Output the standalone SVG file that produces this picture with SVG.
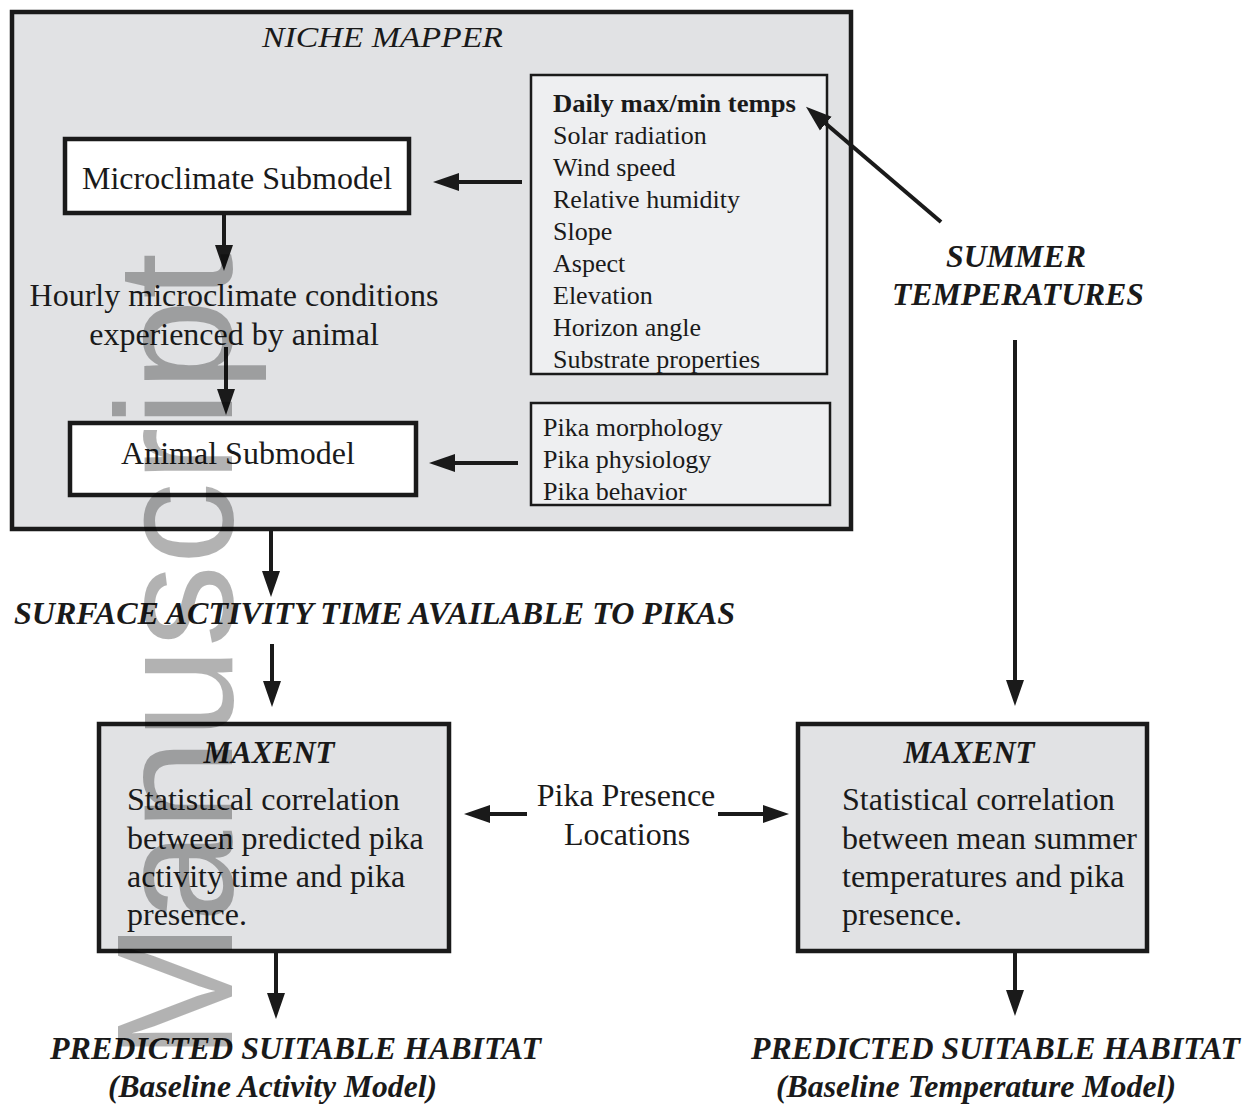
<svg xmlns="http://www.w3.org/2000/svg" width="1253" height="1108" viewBox="0 0 1253 1108">
<style>
text{font-family:"Liberation Serif","Times New Roman",serif;fill:#1a1a1a}
.t26{font-size:26px}
.t32{font-size:32px}
.bi{font-size:31px;font-weight:bold;font-style:italic}
.it{font-size:30px;font-style:italic}
.mid{text-anchor:middle}
.box{stroke:#1a1a1a;stroke-width:4.5}
.thin{stroke:#1a1a1a;stroke-width:2.5}
.gray{fill:#e1e2e4}
.light{fill:#eeeff1}
.white{fill:#ffffff}
.conn line{stroke:#1a1a1a;stroke-width:4;fill:none}
</style>
<defs>
<marker id="ah" markerUnits="userSpaceOnUse" markerWidth="28" markerHeight="20" refX="1" refY="9" orient="auto" viewBox="0 0 28 18">
<path d="M0,0 L26,9 L0,18 Z" fill="#1a1a1a"/>
</marker>
</defs>
<rect width="1253" height="1108" fill="#ffffff"/>

<g id="niche-mapper">
<rect x="12" y="12" width="839" height="517" class="box gray"/>
<text x="262" y="47" class="it" textLength="241" lengthAdjust="spacingAndGlyphs">NICHE MAPPER</text>
</g>

<g id="inputs">
<rect x="531" y="75" width="296" height="299" class="thin light"/>
<text x="553" y="112" class="t26" font-weight="bold" textLength="243" lengthAdjust="spacingAndGlyphs">Daily max/min temps</text>
<text x="553" y="144" class="t26">Solar radiation</text>
<text x="553" y="176" class="t26">Wind speed</text>
<text x="553" y="208" class="t26">Relative humidity</text>
<text x="553" y="240" class="t26">Slope</text>
<text x="553" y="272" class="t26">Aspect</text>
<text x="553" y="304" class="t26">Elevation</text>
<text x="553" y="336" class="t26">Horizon angle</text>
<text x="553" y="368" class="t26">Substrate properties</text>
</g>

<g id="pika-traits">
<rect x="531" y="403" width="299" height="102" class="thin light"/>
<text x="543" y="436" class="t26">Pika morphology</text>
<text x="543" y="468" class="t26">Pika physiology</text>
<text x="543" y="500" class="t26">Pika behavior</text>
</g>

<g id="microclimate-submodel">
<rect x="65" y="139" width="344" height="74" class="box white"/>
<text x="237" y="189" class="t32 mid">Microclimate Submodel</text>
</g>

<g id="hourly-conditions">
<text x="234" y="306" class="t32 mid">Hourly microclimate conditions</text>
<text x="234" y="345" class="t32 mid">experienced by animal</text>
</g>

<g id="animal-submodel">
<rect x="70" y="423" width="346" height="72" class="box white"/>
<text x="238" y="464" class="t32 mid">Animal Submodel</text>
</g>

<g id="surface-activity">
<text x="14" y="624" class="bi" textLength="721" lengthAdjust="spacingAndGlyphs">SURFACE ACTIVITY TIME AVAILABLE TO PIKAS</text>
</g>

<g id="maxent-activity">
<rect x="99" y="724" width="350" height="227" class="box gray"/>
<text x="269" y="763" class="bi mid">MAXENT</text>
<text x="127" y="810" class="t32">Statistical correlation</text>
<text x="127" y="849" class="t32">between predicted pika</text>
<text x="127" y="887" class="t32">activity time and pika</text>
<text x="127" y="925" class="t32">presence.</text>
</g>

<g id="pika-presence">
<text x="626" y="806" class="t32 mid">Pika Presence</text>
<text x="627" y="845" class="t32 mid">Locations</text>
</g>

<g id="maxent-temperature">
<rect x="798" y="724" width="349" height="227" class="box gray"/>
<text x="969" y="763" class="bi mid">MAXENT</text>
<text x="842" y="810" class="t32">Statistical correlation</text>
<text x="842" y="849" class="t32">between mean summer</text>
<text x="842" y="887" class="t32">temperatures and pika</text>
<text x="842" y="925" class="t32">presence.</text>
</g>

<g id="summer-temperatures">
<text x="946" y="267" class="bi" textLength="140" lengthAdjust="spacingAndGlyphs">SUMMER</text>
<text x="892" y="305" class="bi" textLength="252" lengthAdjust="spacingAndGlyphs">TEMPERATURES</text>
</g>

<g id="habitat-activity">
<text x="50" y="1059" class="bi" textLength="491" lengthAdjust="spacingAndGlyphs">PREDICTED SUITABLE HABITAT</text>
<text x="108" y="1097" class="bi" textLength="329" lengthAdjust="spacingAndGlyphs">(Baseline Activity Model)</text>
</g>

<g id="habitat-temperature">
<text x="751" y="1059" class="bi" textLength="489" lengthAdjust="spacingAndGlyphs">PREDICTED SUITABLE HABITAT</text>
<text x="776" y="1097" class="bi" textLength="400" lengthAdjust="spacingAndGlyphs">(Baseline Temperature Model)</text>
</g>

<g id="connectors" class="conn">
<line x1="522" y1="182" x2="458" y2="182" marker-end="url(#ah)"/>
<line x1="224" y1="213" x2="224" y2="246" marker-end="url(#ah)"/>
<line x1="226" y1="347" x2="226" y2="390" marker-end="url(#ah)"/>
<line x1="518" y1="463" x2="454" y2="463" marker-end="url(#ah)"/>
<line x1="271" y1="531" x2="271" y2="572" marker-end="url(#ah)"/>
<line x1="272" y1="644" x2="272" y2="682" marker-end="url(#ah)"/>
<line x1="276" y1="953" x2="276" y2="994" marker-end="url(#ah)"/>
<line x1="1015" y1="953" x2="1015" y2="991" marker-end="url(#ah)"/>
<line x1="941" y1="222" x2="825" y2="123" marker-end="url(#ah)"/>
<line x1="1015" y1="340" x2="1015" y2="681" marker-end="url(#ah)"/>
<line x1="527" y1="814" x2="489" y2="814" marker-end="url(#ah)"/>
<line x1="718" y1="814" x2="764" y2="814" marker-end="url(#ah)"/>
</g>

<g id="watermark">
<text transform="translate(232,1060) rotate(-90)" x="0" y="0" style="font-family:'Liberation Sans',Arial,sans-serif;font-size:165px;fill:#000000;fill-opacity:0.3">Manuscript</text>
</g>
</svg>
